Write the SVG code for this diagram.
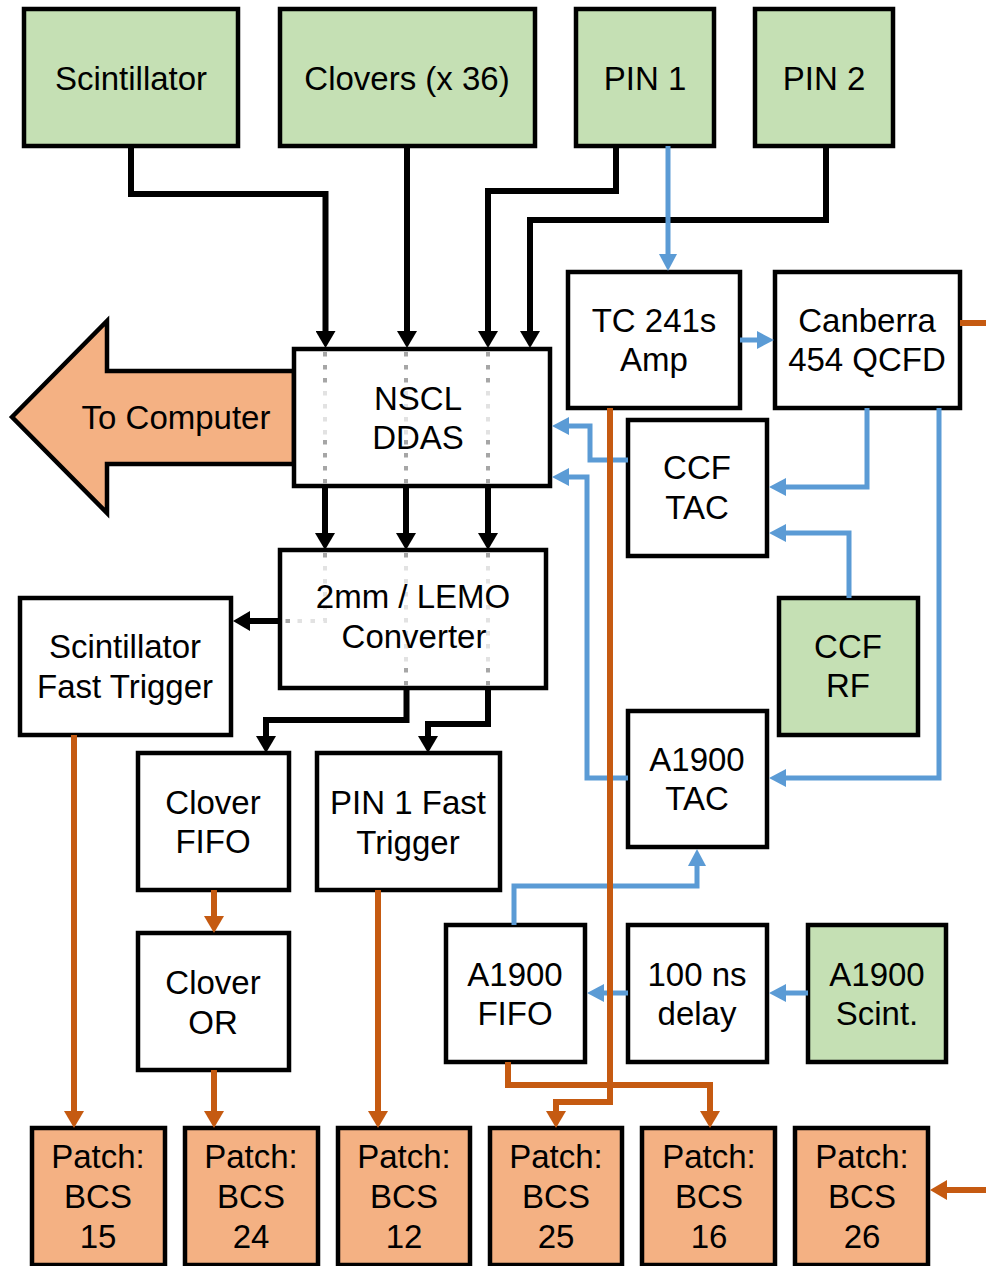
<svg xmlns="http://www.w3.org/2000/svg" width="986" height="1266" viewBox="0 0 986 1266">
<style>
.box{stroke:#000;stroke-width:4.5;fill:#fff}
.src{fill:#c5e0b4}
.out{fill:#f4b183}
text{font-family:"Liberation Sans",Arial,Helvetica,sans-serif;font-size:33px;fill:#000;text-anchor:middle}
.k{fill:none;stroke:#000;stroke-width:6}
.b{fill:none;stroke:#5b9bd5;stroke-width:5}
.o{fill:none;stroke:#c55a11;stroke-width:6}
.dk{fill:none;stroke:#a6a6a6;stroke-width:4;stroke-dasharray:4.5 8.5}
.lt{fill:none;stroke:#e2e2e2;stroke-width:4;stroke-dasharray:4.5 8.5}
</style>
<defs>
<marker id="ak" markerUnits="userSpaceOnUse" markerWidth="18" markerHeight="20" refX="0" refY="10" orient="auto"><path d="M0,0 L17,10 L0,20 z" fill="#000"/></marker>
<marker id="ab" markerUnits="userSpaceOnUse" markerWidth="18" markerHeight="18" refX="0" refY="9" orient="auto"><path d="M0,0 L17,9 L0,18 z" fill="#5b9bd5"/></marker>
<marker id="ao" markerUnits="userSpaceOnUse" markerWidth="18" markerHeight="20" refX="0" refY="10" orient="auto"><path d="M0,0 L17,10 L0,20 z" fill="#c55a11"/></marker>
</defs>

<g id="to-computer">
<path d="M12,417 L107,321 L107,371 L294,371 L294,464 L107,464 L107,513 Z" fill="#f4b183" stroke="#000" stroke-width="4.5" stroke-linejoin="miter"/>
<text x="176" y="429">To Computer</text>
</g>

<g id="scintillator"><rect class="box src" x="24" y="9" width="214" height="137"/><text x="131" y="90">Scintillator</text></g>
<g id="clovers"><rect class="box src" x="280" y="9" width="255" height="137"/><text x="407" y="90">Clovers (x 36)</text></g>
<g id="pin1"><rect class="box src" x="576" y="9" width="138" height="137"/><text x="645" y="90">PIN 1</text></g>
<g id="pin2"><rect class="box src" x="755" y="9" width="138" height="137"/><text x="824" y="90">PIN 2</text></g>

<g id="tc241"><rect class="box" x="568" y="272" width="172" height="136"/><text x="654" y="332">TC 241s</text><text x="654" y="371">Amp</text></g>
<g id="canberra"><rect class="box" x="775" y="272" width="185" height="136"/><text x="867" y="332">Canberra</text><text x="867" y="371">454 QCFD</text></g>

<g id="nscl-ddas"><rect class="box" x="294" y="349" width="256" height="137"/></g>
<g id="converter"><rect class="box" x="280" y="550" width="266" height="138"/></g>

<g id="dotted-paths">
<path class="dk" d="M325,352 V390 M406,352 V390 M488,352 V390"/>
<path class="lt" d="M325,391 V437 M406,391 V437 M488,391 V437"/>
<path class="dk" d="M325,440 V486 M406,440 V486 M488,440 V486"/>
<path class="dk" d="M325,553 V563 M406,553 V563 M488,553 V563"/>
<path class="lt" d="M325,566 V621 H294 M406,566 V666 M488,566 V666"/>
<path class="dk" d="M290,621 H283 M406,668 V688 M488,668 V688"/>
</g>

<g id="nscl-ddas-label"><text x="418" y="410">NSCL</text><text x="418" y="449">DDAS</text></g>
<g id="converter-label"><text x="413" y="608">2mm / LEMO</text><text x="414" y="648">Converter</text></g>

<g id="ccf-tac"><rect class="box" x="628" y="420" width="139" height="136"/><text x="697" y="479">CCF</text><text x="697" y="519">TAC</text></g>
<g id="scint-fast-trigger"><rect class="box" x="20" y="598" width="211" height="137"/><text x="125" y="658">Scintillator</text><text x="125" y="698">Fast Trigger</text></g>
<g id="ccf-rf"><rect class="box src" x="779" y="598" width="139" height="137"/><text x="848" y="658">CCF</text><text x="848" y="697">RF</text></g>
<g id="a1900-tac"><rect class="box" x="628" y="711" width="139" height="136"/><text x="697" y="771">A1900</text><text x="697" y="810">TAC</text></g>
<g id="clover-fifo"><rect class="box" x="138" y="753" width="151" height="137"/><text x="213" y="814">Clover</text><text x="213" y="853">FIFO</text></g>
<g id="pin1-fast-trigger"><rect class="box" x="317" y="753" width="183" height="137"/><text x="408" y="814">PIN 1 Fast</text><text x="408" y="854">Trigger</text></g>
<g id="clover-or"><rect class="box" x="138" y="933" width="151" height="137"/><text x="213" y="994">Clover</text><text x="213" y="1034">OR</text></g>
<g id="a1900-fifo"><rect class="box" x="446" y="925" width="139" height="137"/><text x="515" y="986">A1900</text><text x="515" y="1025">FIFO</text></g>
<g id="delay"><rect class="box" x="628" y="925" width="139" height="137"/><text x="697" y="986">100 ns</text><text x="697" y="1025">delay</text></g>
<g id="a1900-scint"><rect class="box src" x="808" y="925" width="138" height="137"/><text x="877" y="986">A1900</text><text x="877" y="1025">Scint.</text></g>

<g id="bcs15"><rect class="box out" x="32" y="1128" width="133" height="137"/><text x="98" y="1168">Patch:</text><text x="98" y="1208">BCS</text><text x="98" y="1248">15</text></g>
<g id="bcs24"><rect class="box out" x="185" y="1128" width="133" height="137"/><text x="251" y="1168">Patch:</text><text x="251" y="1208">BCS</text><text x="251" y="1248">24</text></g>
<g id="bcs12"><rect class="box out" x="338" y="1128" width="132" height="137"/><text x="404" y="1168">Patch:</text><text x="404" y="1208">BCS</text><text x="404" y="1248">12</text></g>
<g id="bcs25"><rect class="box out" x="490" y="1128" width="132" height="137"/><text x="556" y="1168">Patch:</text><text x="556" y="1208">BCS</text><text x="556" y="1248">25</text></g>
<g id="bcs16"><rect class="box out" x="642" y="1128" width="133" height="137"/><text x="709" y="1168">Patch:</text><text x="709" y="1208">BCS</text><text x="709" y="1248">16</text></g>
<g id="bcs26"><rect class="box out" x="795" y="1128" width="133" height="137"/><text x="862" y="1168">Patch:</text><text x="862" y="1208">BCS</text><text x="862" y="1248">26</text></g>

<g id="connectors">
<path class="k" marker-end="url(#ak)" d="M131,146 V194 H325.5 V331"/>
<path class="k" marker-end="url(#ak)" d="M407,146 V331"/>
<path class="k" marker-end="url(#ak)" d="M616,146 V191 H488 V331"/>
<path class="k" marker-end="url(#ak)" d="M826,146 V220 H530 V331"/>
<path class="k" marker-end="url(#ak)" d="M325,486 V533"/>
<path class="k" marker-end="url(#ak)" d="M406,486 V533"/>
<path class="k" marker-end="url(#ak)" d="M488,486 V533"/>
<path class="k" marker-end="url(#ak)" d="M280,621 H250"/>
<path class="k" marker-end="url(#ak)" d="M406.5,688 V720 H266 V736"/>
<path class="k" marker-end="url(#ak)" d="M488,688 V724 H428 V736"/>

<path class="b" marker-end="url(#ab)" d="M668,146 V254"/>
<path class="b" marker-end="url(#ab)" d="M740,340 H757"/>
<path class="b" marker-end="url(#ab)" d="M867,408 V487 H786"/>
<path class="b" marker-end="url(#ab)" d="M849,598 V533 H786"/>
<path class="b" marker-end="url(#ab)" d="M939,408 V778 H786"/>
<path class="b" marker-end="url(#ab)" d="M628,460 H590 V426 H569"/>
<path class="b" marker-end="url(#ab)" d="M628,778 H587 V477 H569"/>
<path class="b" marker-end="url(#ab)" d="M514,925 V886 H697 V866"/>
<path class="b" marker-end="url(#ab)" d="M628,993 H604"/>
<path class="b" marker-end="url(#ab)" d="M808,993 H786"/>

<path class="o" d="M960,323 H986"/>
<path class="o" marker-end="url(#ao)" d="M74,735 V1111"/>
<path class="o" marker-end="url(#ao)" d="M214,890 V916"/>
<path class="o" marker-end="url(#ao)" d="M214,1070 V1111"/>
<path class="o" marker-end="url(#ao)" d="M378,890 V1111"/>
<path class="o" marker-end="url(#ao)" d="M508,1062 V1085 H710 V1111"/>
<path class="o" marker-end="url(#ao)" d="M610,408 V1102 H556 V1111"/>
<path class="o" marker-end="url(#ao)" d="M986,1190 H947"/>
</g>
</svg>
